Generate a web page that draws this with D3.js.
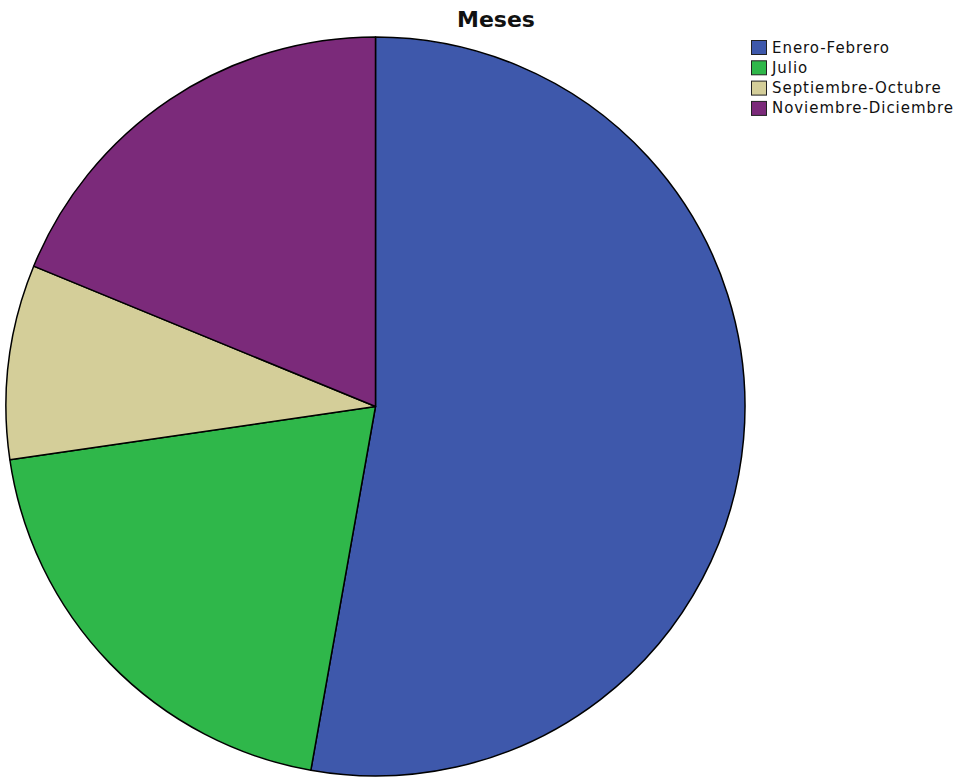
<!DOCTYPE html>
<html><head><meta charset="utf-8">
<script src="https://cdn.jsdelivr.net/npm/d3@7"></script>
<style>body{margin:0;background:#fff}svg{display:block}</style>
</head><body>
<script>
const categories = ["Enero-Febrero", "Julio", "Septiembre-Octubre", "Noviembre-Diciembre"];
const values = [52.8, 19.9, 8.5, 18.8];
const colors = ["#3e58ab", "#2fb74a", "#d4ce99", "#7b2a7a"];
const title = "Meses";

const W = 957, H = 778;
const svg = d3.select("body").append("svg").attr("width", W).attr("height", H);
const cx = 375.5, cy = 406.5, r = 369.5;

const data = categories.map((c, i) => ({cat: c, value: values[i], color: colors[i]}));
const pie = d3.pie().sort(null).value(d => d.value);
const arc = d3.arc().innerRadius(0).outerRadius(r);

svg.append("g").attr("transform", `translate(${cx},${cy})`)
  .selectAll("path").data(pie(data)).join("path")
  .attr("d", arc).attr("fill", d => d.data.color)
  .attr("stroke", "#000").attr("stroke-width", 1.5).attr("stroke-linejoin", "round");

svg.append("text").attr("x", 496).attr("y", 27).attr("text-anchor", "middle")
  .attr("font-family", "DejaVu Sans, sans-serif").attr("font-weight", "bold")
  .attr("font-size", 22).attr("fill", "#111").text(title);

const lg = svg.append("g").attr("transform", "translate(751,40)");
const rows = lg.selectAll("g").data(data).join("g")
  .attr("transform", (d, i) => `translate(0,${i * 20.3})`);
rows.append("rect").attr("x", 0.5).attr("y", 0.5).attr("width", 15).attr("height", 14)
  .attr("fill", d => d.color).attr("stroke", "#222").attr("stroke-width", 1);
rows.append("text").attr("x", 21).attr("y", 12.5)
  .attr("font-family", "DejaVu Sans, sans-serif").attr("font-size", 15).attr("fill", "#111")
  .attr("letter-spacing", 0.95)
  .text(d => d.cat);
</script>
</body></html>
